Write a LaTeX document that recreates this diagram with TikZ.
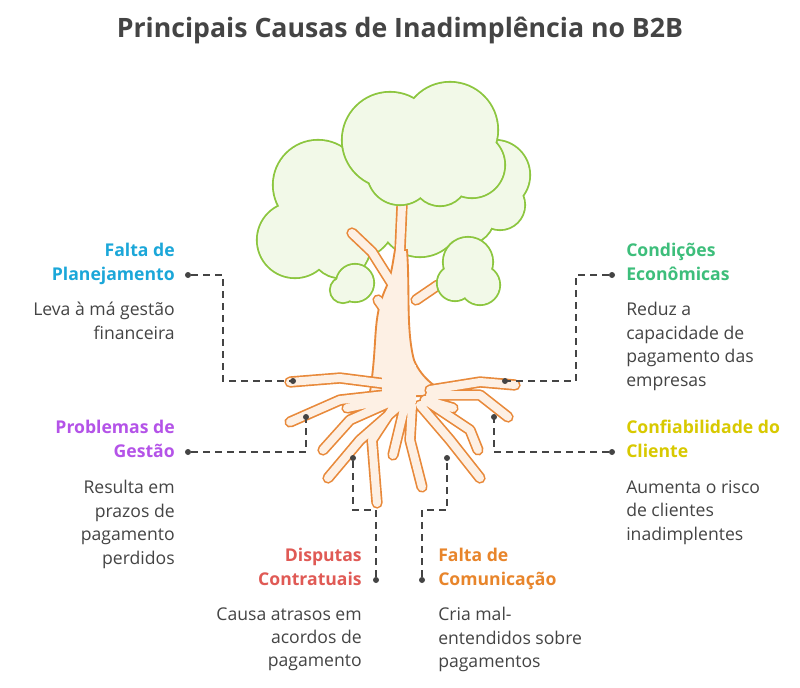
\documentclass[tikz,border=0pt]{standalone}
\usepackage{fontspec}
\setmainfont{Open Sans}
\begin{document}
\begin{tikzpicture}[x=0.75pt,y=-0.75pt,
  leaf/.style={draw=leafline,line width=1.6pt,fill=leaffill},
  leafin/.style={fill=leaffill},
  root/.style={draw=rootline,line width=8.5pt,line cap=round,line join=round},
  rootin/.style={draw=rootfill,line width=6pt,line cap=round,line join=round},
  conn/.style={draw=dark,line width=1.2pt,dash pattern=on 5pt off 4pt},
  dot/.style={circle,fill=dark,inner sep=0pt,minimum size=4.5pt},
  head/.style={font=\fontsize{13.2}{17.6}\selectfont\bfseries,inner sep=0pt},
  body/.style={font=\fontsize{13.2}{17.6}\selectfont,text=dark,inner sep=0pt}]
\definecolor{leafline}{HTML}{8CC63F}
\definecolor{leaffill}{HTML}{F2F9E8}
\definecolor{rootline}{HTML}{E8893A}
\definecolor{rootfill}{HTML}{FDF0E4}
\definecolor{dark}{HTML}{444444}
\definecolor{cblue}{HTML}{1BA7D9}
\definecolor{cpurple}{HTML}{B453E8}
\definecolor{cred}{HTML}{E05A55}
\definecolor{corange}{HTML}{E8852B}
\definecolor{cgreen}{HTML}{3DBE7B}
\definecolor{cyellow}{HTML}{D8C900}
\useasboundingbox[fill=white] (0,0) rectangle (800,688);
\node[font=\fontsize{20}{24}\selectfont\bfseries,text=dark] (title) at (400,30) {Principais Causas de Inadimplência no B2B};
% canopy back
\def\cloudA{{(295,240)}/38,{(318,185)}/45,{(352,215)}/45,{(340,248)}/30,{(420,215)}/42,{(495,175)}/35,{(500,205)}/25,{(465,215)}/30}
\foreach \c/\r in \cloudA {\path[leaf] \c circle (\r);}
\foreach \c/\r in \cloudA {\path[leafin] \c circle (\r-0.8);}
% trunk and branches
\def\branches{(398,300) -- (400,250) -- (402,205) (396,290)--(372,252)--(352,233) (392,320)--(378,300) (416,300)--(438,285)}
\path[root] \branches;
\path[draw=rootline,line width=1.4pt,fill=rootfill] (370,392) .. controls (378,340) and (372,320) .. (385,290) .. controls (392,275) and (393,260) .. (395,250) -- (407,250) .. controls (410,290) and (406,330) .. (414,360) .. controls (422,380) and (440,390) .. (450,395) -- (365,398) -- cycle;
\path[rootin] \branches;
% roots
\def\roots{(395,385)--(340,378)--(290,382) (385,395)--(340,400)--(290,422) (395,400)--(350,420)--(323,450) (400,405)--(360,440)--(328,478) (395,405)--(372,440)--(377,503) (405,405)--(393,455) (412,405)--(410,440)--(422,487) (420,405)--(450,440)--(480,478) (425,400)--(470,430)--(478,450) (430,395)--(480,395)--(508,417) (430,390)--(480,382)--(515,385) (425,400)--(453,408) (385,400)--(347,408)}
\path[root] \roots;
\path[rootin] \roots;
\path[fill=rootfill] (382,365) rectangle (416,403);
% top cloud
\def\cloudB{{(390,140)}/48,{(450,130)}/48,{(472,165)}/33,{(400,172)}/33,{(440,178)}/28}
\foreach \c/\r in \cloudB {\path[leaf] \c circle (\r);}
\foreach \c/\r in \cloudB {\path[leafin] \c circle (\r-0.8);}
% front small clouds
\def\cloudC{{(355,283)}/19,{(343,290)}/13,{(468,262)}/25,{(480,285)}/20,{(455,283)}/18}
\foreach \c/\r in \cloudC {\path[leaf] \c circle (\r);}
\foreach \c/\r in \cloudC {\path[leafin] \c circle (\r-0.8);}
% anchors on tree
\coordinate (t1) at (293,381); \coordinate (t2) at (306,417); \coordinate (t3) at (353,458);
\coordinate (t4) at (447,458); \coordinate (t5) at (494,417); \coordinate (t6) at (505,381);
% labels
\node[head,text=cblue,align=right,anchor=north east] (h1) at (175,243) {Falta de\\Planejamento};
\node[body,align=right,anchor=north east] (b1) at (175,302) {Leva à má gestão\\financeira};
\node[head,text=cpurple,align=right,anchor=north east] (h2) at (175,420) {Problemas de\\Gestão};
\node[body,align=right,anchor=north east] (b2) at (175,480) {Resulta em\\prazos de\\pagamento\\perdidos};
\node[head,text=cred,align=right,anchor=north east] (h3) at (362,548) {Disputas\\Contratuais};
\node[body,align=right,anchor=north east] (b3) at (362,607) {Causa atrasos em\\acordos de\\pagamento};
\node[head,text=corange,align=left,anchor=north west] (h4) at (438,548) {Falta de\\Comunicação};
\node[body,align=left,anchor=north west] (b4) at (438,607) {Cria mal-\\entendidos sobre\\pagamentos};
\node[head,text=cyellow,align=left,anchor=north west] (h5) at (626,420) {Confiabilidade do\\Cliente};
\node[body,align=left,anchor=north west] (b5) at (626,480) {Aumenta o risco\\de clientes\\inadimplentes};
\node[head,text=cgreen,align=left,anchor=north west] (h6) at (626,243) {Condições\\Econômicas};
\node[body,align=left,anchor=north west] (b6) at (626,302) {Reduz a\\capacidade de\\pagamento das\\empresas};
% connectors
\node[dot] (d1) at (188,275) {}; \node[dot] (d2) at (188,452) {}; \node[dot] (d3) at (376,580) {};
\node[dot] (d4) at (422,580) {}; \node[dot] (d5) at (612,452) {}; \node[dot] (d6) at (612,275) {};
\foreach \t in {t1,t2,t3,t4,t5,t6}{\node[dot] at (\t) {};}
\draw[conn] (d1) -- (223,275) -- (223,381) -- (t1);
\draw[conn] (d2) -- (306,452) -- (t2);
\draw[conn] (d3) -- (376,510) -- (353,510) -- (t3);
\draw[conn] (d4) -- (422,510) -- (447,510) -- (t4);
\draw[conn] (d5) -- (494,452) -- (t5);
\draw[conn] (d6) -- (576,275) -- (576,381) -- (t6);
\end{tikzpicture}
\end{document}
